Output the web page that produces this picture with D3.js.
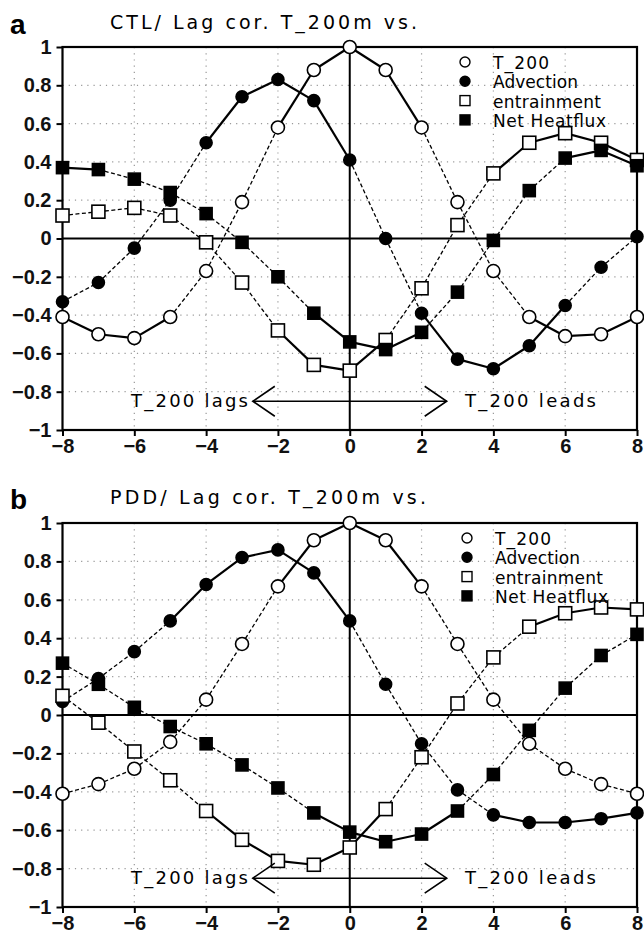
<!DOCTYPE html>
<html>
<head>
<meta charset="utf-8">
<script src="https://cdn.jsdelivr.net/npm/d3@7"></script>
<style>
  body { margin: 0; background: #fff; }
  svg { display: block; font-family: "Liberation Sans", Arial, sans-serif; }
  .lbl { font-family: "DejaVu Sans", sans-serif; }
</style>
</head>
<body>
<svg width="644" height="934"></svg>
<script>
const lags = [-8, -7, -6, -5, -4, -3, -2, -1, 0, 1, 2, 3, 4, 5, 6, 7, 8];
const xTicks = [-8, -6, -4, -2, 0, 2, 4, 6, 8];
const yTicks = [-1, -0.8, -0.6, -0.4, -0.2, 0, 0.2, 0.4, 0.6, 0.8, 1];
const xGrid = [-6, -4, -2, 2, 4, 6];
const yGrid = [-0.8, -0.6, -0.4, -0.2, 0.2, 0.4, 0.6, 0.8];
const seriesNames = ['T_200', 'Advection', 'entrainment', 'Net Heatflux'];

// CTL run
const ctlT200 = [-0.41, -0.50, -0.52, -0.41, -0.17, 0.19, 0.58, 0.88, 1.00, 0.88, 0.58, 0.19, -0.17, -0.41, -0.51, -0.50, -0.41];
const ctlAdvection = [-0.33, -0.23, -0.05, 0.20, 0.50, 0.74, 0.83, 0.72, 0.41, 0.00, -0.39, -0.63, -0.68, -0.56, -0.35, -0.15, 0.01];
const ctlEntrainment = [0.12, 0.14, 0.16, 0.12, -0.02, -0.23, -0.48, -0.66, -0.69, -0.53, -0.26, 0.07, 0.34, 0.50, 0.55, 0.50, 0.41];
const ctlHeatflux = [0.37, 0.36, 0.31, 0.24, 0.13, -0.02, -0.20, -0.39, -0.54, -0.58, -0.49, -0.28, -0.01, 0.25, 0.42, 0.46, 0.38];

// PDD run
const pddT200 = [-0.41, -0.36, -0.28, -0.14, 0.08, 0.37, 0.67, 0.91, 1.00, 0.91, 0.67, 0.37, 0.08, -0.15, -0.28, -0.36, -0.41];
const pddAdvection = [0.07, 0.19, 0.33, 0.49, 0.68, 0.82, 0.86, 0.74, 0.49, 0.16, -0.15, -0.39, -0.52, -0.56, -0.56, -0.54, -0.51];
const pddEntrainment = [0.10, -0.04, -0.19, -0.34, -0.50, -0.65, -0.76, -0.78, -0.69, -0.49, -0.22, 0.06, 0.30, 0.46, 0.53, 0.56, 0.55];
const pddHeatflux = [0.27, 0.16, 0.04, -0.06, -0.15, -0.26, -0.38, -0.51, -0.61, -0.66, -0.62, -0.50, -0.31, -0.08, 0.14, 0.31, 0.42];

// segments are solid where both ends pass the significance level
const ctlSignif = 0.32;
const pddSignif = 0.43;

const svg = d3.select('svg');

const x = d3.scaleLinear().domain([-8, 8]).range([62.5, 637]);

function drawPanel(opt) {
  const y = d3.scaleLinear().domain([-1, 1]).range([opt.bottom, opt.top]);
  const g = svg.append('g');

  // dotted grid
  g.selectAll('.vg').data(xGrid).join('line')
    .attr('x1', d => x(d)).attr('x2', d => x(d))
    .attr('y1', opt.top).attr('y2', opt.bottom)
    .attr('stroke', '#999').attr('stroke-width', 1.2).attr('stroke-dasharray', '1.2,5');
  g.selectAll('.hg').data(yGrid).join('line')
    .attr('x1', x(-8)).attr('x2', x(8))
    .attr('y1', d => y(d)).attr('y2', d => y(d))
    .attr('stroke', '#999').attr('stroke-width', 1.2).attr('stroke-dasharray', '1.2,5');

  // zero lines
  g.append('line').attr('x1', x(-8)).attr('x2', x(8)).attr('y1', y(0)).attr('y2', y(0))
    .attr('stroke', '#000').attr('stroke-width', 2);
  g.append('line').attr('x1', x(0)).attr('x2', x(0)).attr('y1', opt.top).attr('y2', opt.bottom)
    .attr('stroke', '#000').attr('stroke-width', 2);

  // axes
  const xAxis = g.append('g').attr('transform', `translate(0,${opt.bottom})`)
    .call(d3.axisBottom(x).tickValues(xTicks).tickFormat(d3.format('')).tickSize(6).tickPadding(3));
  const yAxis = g.append('g').attr('transform', `translate(${x(-8)},0)`)
    .call(d3.axisLeft(y).tickValues(yTicks).tickFormat(d3.format('')).tickSize(6).tickPadding(5));
  [xAxis, yAxis].forEach(a => {
    a.select('.domain').remove();
    a.selectAll('line').attr('stroke-width', 2);
    a.selectAll('text').attr('font-size', 20).attr('font-weight', 'bold').attr('fill', '#111');
  });

  // frame
  g.append('rect').attr('x', x(-8)).attr('y', opt.top)
    .attr('width', x(8) - x(-8)).attr('height', opt.bottom - opt.top)
    .attr('fill', 'none').attr('stroke', '#000').attr('stroke-width', 2.2);

  // lines, segment by segment
  const line = d3.line().x(d => x(d[0])).y(d => y(d[1]));
  opt.series.forEach(vals => {
    for (let i = 0; i < lags.length - 1; i++) {
      const solid = Math.abs(vals[i]) >= opt.signif && Math.abs(vals[i + 1]) >= opt.signif;
      g.append('path')
        .attr('d', line([[lags[i], vals[i]], [lags[i + 1], vals[i + 1]]]))
        .attr('fill', 'none').attr('stroke', '#000')
        .attr('stroke-width', solid ? 2.2 : 1.3)
        .attr('stroke-dasharray', solid ? null : '4,2.5');
    }
  });

  // markers
  opt.series.forEach((vals, k) => {
    const pts = lags.map((l, i) => [l, vals[i]]);
    const open = k % 2 === 0;
    if (k < 2) {
      g.selectAll(null).data(pts).join('circle')
        .attr('cx', d => x(d[0])).attr('cy', d => y(d[1]))
        .attr('r', open ? 6.5 : 6)
        .attr('fill', open ? '#fff' : '#000')
        .attr('stroke', '#000').attr('stroke-width', 1.6);
    } else {
      const s = open ? 13 : 12;
      g.selectAll(null).data(pts).join('rect')
        .attr('x', d => x(d[0]) - s / 2).attr('y', d => y(d[1]) - s / 2)
        .attr('width', s).attr('height', s)
        .attr('fill', open ? '#fff' : '#000')
        .attr('stroke', '#000').attr('stroke-width', 1.6);
    }
  });

  // legend
  const leg = g.append('g').attr('transform', `translate(${opt.legX},${opt.legY})`);
  const legWidths = [56, 85, 108, 113];
  seriesNames.forEach((name, k) => {
    const cy = k * 19.3;
    const open = k % 2 === 0;
    if (k < 2) {
      leg.append('circle').attr('cx', 0).attr('cy', cy).attr('r', 5)
        .attr('fill', open ? '#fff' : '#000').attr('stroke', '#000').attr('stroke-width', 1.4);
    } else {
      leg.append('rect').attr('x', -5).attr('y', cy - 5).attr('width', 10).attr('height', 10)
        .attr('fill', open ? '#fff' : '#000').attr('stroke', '#000').attr('stroke-width', 1.4);
    }
    leg.append('text').attr('class', 'lbl').attr('x', 28).attr('y', cy + 7)
      .attr('font-size', 17).attr('textLength', legWidths[k]).attr('lengthAdjust', 'spacing')
      .text(name);
  });

  // lag / lead arrow
  const ay = y(-0.85);
  const ax0 = x(-2.7), ax1 = x(2.7);
  const arrow = g.append('g').attr('fill', 'none').attr('stroke', '#000').attr('stroke-width', 1.6);
  arrow.append('line').attr('x1', ax0).attr('x2', ax1).attr('y1', ay).attr('y2', ay);
  arrow.append('path').attr('d', `M${ax0 + 22},${ay - 15}L${ax0},${ay}L${ax0 + 22},${ay + 15}`);
  arrow.append('path').attr('d', `M${ax1 - 22},${ay - 15}L${ax1},${ay}L${ax1 - 22},${ay + 15}`);
  g.append('text').attr('class', 'lbl').attr('x', 131).attr('y', ay + 6).attr('font-size', 18)
    .attr('textLength', 117).attr('lengthAdjust', 'spacing').text('T_200 lags');
  g.append('text').attr('class', 'lbl').attr('x', 465).attr('y', ay + 6).attr('font-size', 18)
    .attr('textLength', 131).attr('lengthAdjust', 'spacing').text('T_200 leads');

  // panel letter and title
  svg.append('text').attr('x', 10).attr('y', opt.titleY + 5)
    .attr('font-size', 28).attr('font-weight', 'bold').text(opt.letter);
  svg.append('text').attr('class', 'lbl').attr('x', 110).attr('y', opt.titleY)
    .attr('font-size', 19).attr('textLength', opt.titleW).attr('lengthAdjust', 'spacing')
    .text(opt.title);
}

drawPanel({
  top: 47, bottom: 430, letter: 'a', title: 'CTL/ Lag cor. T_200m vs.', titleY: 29, titleW: 307,
  series: [ctlT200, ctlAdvection, ctlEntrainment, ctlHeatflux], signif: ctlSignif,
  legX: 465, legY: 62
});

drawPanel({
  top: 523, bottom: 907, letter: 'b', title: 'PDD/ Lag cor. T_200m vs.', titleY: 504, titleW: 316,
  series: [pddT200, pddAdvection, pddEntrainment, pddHeatflux], signif: pddSignif,
  legX: 467, legY: 538
});
</script>
</body>
</html>
